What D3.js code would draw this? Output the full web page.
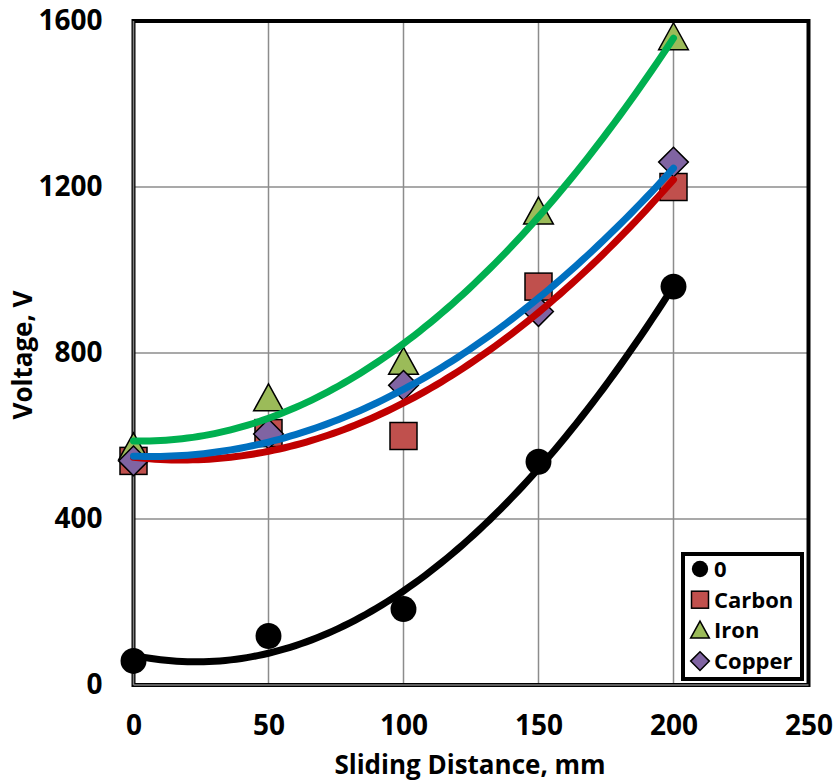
<!DOCTYPE html>
<html><head><meta charset="utf-8">
<script src="https://cdn.jsdelivr.net/npm/d3@7"></script>
<style>body{margin:0;background:#fff}svg{display:block}text{font-family:"Open Sans",sans-serif;font-weight:700}</style>
</head><body>
<script>
const distances = [0, 50, 100, 150, 200];
const seriesNames = ["0", "Carbon", "Iron", "Copper"];
const vZero   = [58, 118, 183, 538, 960];
const vCarbon = [540, 607, 600, 960, 1200];
const vIron   = [572, 690, 778, 1140, 1560];
const vCopper = [540, 605, 722, 900, 1260];
const xTicks = [0, 50, 100, 150, 200, 250];
const yTicks = [0, 400, 800, 1200, 1600];

const W = 838, H = 784;
const svg = d3.select("body").append("svg").attr("width", W).attr("height", H);
const L = 133.5, R = 808.5, T = 21, B = 685;
const x = d3.scaleLinear().domain([0, 250]).range([L, R]);
const y = d3.scaleLinear().domain([0, 1600]).range([B, T]);

// gridlines
const g = svg.append("g");
g.selectAll(".gx").data(xTicks.slice(1, -1)).enter().append("line")
  .attr("x1", d => x(d)).attr("x2", d => x(d)).attr("y1", T).attr("y2", B)
  .attr("stroke", "#8c8c8c").attr("stroke-width", 1.5);
g.selectAll(".gy").data(yTicks.slice(1, -1)).enter().append("line")
  .attr("x1", L).attr("x2", R).attr("y1", d => y(d)).attr("y2", d => y(d))
  .attr("stroke", "#8c8c8c").attr("stroke-width", 1.5);

// frame
svg.append("rect").attr("x", L).attr("y", T).attr("width", R - L).attr("height", B - T)
  .attr("fill", "none").attr("stroke", "#000").attr("stroke-width", 4);
svg.append("line").attr("x1", L).attr("x2", L).attr("y1", T).attr("y2", B).attr("stroke", "#7f7f7f").attr("stroke-width", 1.5);
svg.append("line").attr("x1", L).attr("x2", R).attr("y1", B).attr("y2", B).attr("stroke", "#7f7f7f").attr("stroke-width", 1.5);

// axes labels via d3 axes
const xAxis = svg.append("g").attr("transform", `translate(0,${B})`)
  .call(d3.axisBottom(x).tickValues(xTicks).tickFormat(d3.format("d")).tickSize(0).tickPadding(30));
xAxis.select(".domain").remove();
xAxis.selectAll("text").attr("font-size", 28).attr("fill", "#000").style("font-family", '"Open Sans",sans-serif').style("font-weight", 700);
const yAxis = svg.append("g").attr("transform", `translate(${L},0)`)
  .call(d3.axisLeft(y).tickValues(yTicks).tickFormat(d3.format("d")).tickSize(0).tickPadding(31));
yAxis.select(".domain").remove();
yAxis.selectAll("text").attr("font-size", 28).attr("fill", "#000").style("font-family", '"Open Sans",sans-serif').style("font-weight", 700);

svg.append("text").attr("x", 470).attr("y", 774).attr("text-anchor", "middle")
  .attr("font-size", 26).text("Sliding Distance, mm");
svg.append("text").attr("transform", "translate(32,355) rotate(-90)").attr("text-anchor", "middle")
  .attr("font-size", 26).text("Voltage, V");

// quadratic least-squares trendline
function quadFit(xs, ys) {
  let S = [0,0,0,0,0], Sy = [0,0,0];
  xs.forEach((xv, i) => {
    for (let k = 0; k < 5; k++) S[k] += Math.pow(xv, k);
    for (let k = 0; k < 3; k++) Sy[k] += Math.pow(xv, k) * ys[i];
  });
  const M = [[S[0],S[1],S[2],Sy[0]],[S[1],S[2],S[3],Sy[1]],[S[2],S[3],S[4],Sy[2]]];
  for (let i = 0; i < 3; i++) {
    for (let j = i + 1; j < 3; j++) {
      const f = M[j][i] / M[i][i];
      for (let k = i; k < 4; k++) M[j][k] -= f * M[i][k];
    }
  }
  const c = [0,0,0];
  for (let i = 2; i >= 0; i--) {
    let s = M[i][3];
    for (let k = i + 1; k < 3; k++) s -= M[i][k] * c[k];
    c[i] = s / M[i][i];
  }
  return xv => c[0] + c[1] * xv + c[2] * xv * xv;
}

const series = [
  {name: seriesNames[0], vals: vZero, fill: "#000", line: "#000", shape: "circle"},
  {name: seriesNames[1], vals: vCarbon, fill: "#C0504D", line: "#C00000", shape: "square"},
  {name: seriesNames[2], vals: vIron, fill: "#9BBB59", line: "#00B050", shape: "triangle"},
  {name: seriesNames[3], vals: vCopper, fill: "#8064A2", line: "#0070C0", shape: "diamond"}
];

function marker(sel, s, size) {
  if (s.shape === "circle") {
    sel.append("circle").attr("r", size * 0.48).attr("fill", "#000");
  } else if (s.shape === "square") {
    sel.append("rect").attr("x", -size/2).attr("y", -size/2).attr("width", size).attr("height", size)
      .attr("fill", s.fill).attr("stroke", "#000").attr("stroke-width", 1.5);
  } else if (s.shape === "triangle") {
    const h = size;
    sel.append("path").attr("d", `M0,${-h*0.55}L${h*0.55},${h*0.45}L${-h*0.55},${h*0.45}Z`)
      .attr("fill", s.fill).attr("stroke", "#000").attr("stroke-width", 1.5);
  } else {
    const r = size * 0.55;
    sel.append("path").attr("d", `M0,${-r}L${r},0L0,${r}L${-r},0Z`)
      .attr("fill", s.fill).attr("stroke", "#000").attr("stroke-width", 1.5);
  }
}

// markers
series.forEach(s => {
  distances.forEach((d, i) => {
    const m = svg.append("g").attr("transform", `translate(${x(d)},${y(s.vals[i])})`);
    marker(m, s, 27);
  });
});

// trendlines on top
const lineGen = d3.line().x(p => x(p[0])).y(p => y(p[1])).curve(d3.curveLinear);
const samples = d3.range(0, 200.01, 2);
series.forEach(s => {
  const f = quadFit(distances, s.vals);
  svg.append("path").datum(samples.map(v => [v, f(v)])).attr("d", lineGen)
    .attr("fill", "none").attr("stroke", s.line).attr("stroke-width", 7).attr("stroke-linecap", "round");
});

// legend
const lg = svg.append("g");
lg.append("rect").attr("x", 683).attr("y", 554).attr("width", 119).attr("height", 125)
  .attr("fill", "#fff").attr("stroke", "#000").attr("stroke-width", 4);
series.forEach((s, i) => {
  const yy = 569 + i * 30.7;
  const m = lg.append("g").attr("transform", `translate(700,${yy})`);
  marker(m, s, 17);
  lg.append("text").attr("x", 714).attr("y", yy).attr("dy", "0.36em").attr("font-size", 22).text(s.name);
});
</script>
</body></html>
